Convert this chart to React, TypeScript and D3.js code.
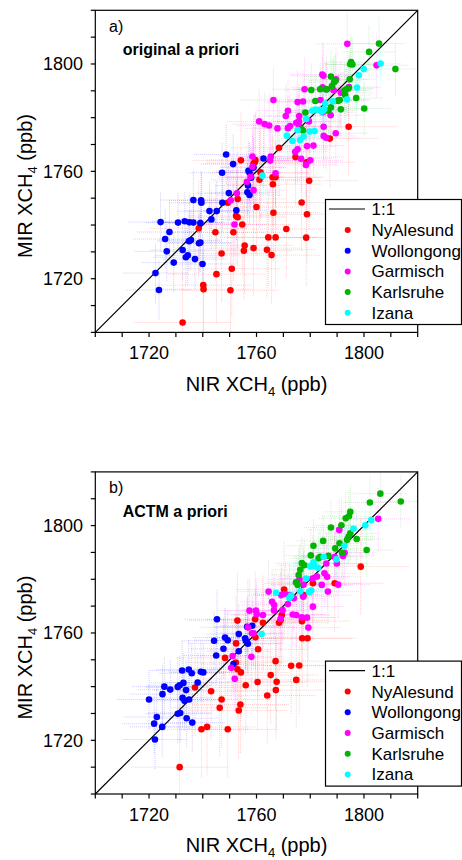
import React from 'react'
import * as d3 from 'd3'

// site names & colours
const sites = ['NyAlesund', 'Wollongong', 'Garmisch', 'Karlsruhe', 'Izana']
const siteColors = ['#ff0000', '#0000ff', '#ff00ff', '#00b400', '#00ffff']
// half-width of the error bars (ppb), x and y
const errX = [18, 12, 12, 10, 8]
const errY = [18, 11, 12, 10, 8]

const axisTicks = d3.range(1700, 1821, 10)
const axisLabels = [1720, 1760, 1800]

// panel a) original a priori : [NIR, MIR]
const nyAlesundA = [[1732.5,1703.7],[1740.2,1717.6],[1740.3,1716.1],[1750.3,1715.7],[1750.8,1723.7],[1745.1,1721.7],[1747.0,1729.4],[1738.5,1738.8],[1744.7,1737.3],[1749.3,1748.3],[1751.4,1737.3],[1753.0,1749.7],[1752.4,1743.4],[1753.0,1742.9],[1754.7,1740.2],[1755.3,1730.4],[1755.6,1732.4],[1758.9,1731.4],[1760.0,1746.7],[1754.2,1764.1],[1759.4,1763.5],[1759.6,1764.2],[1761.1,1756.9],[1761.5,1759.6],[1766.0,1757.8],[1767.1,1757.8],[1766.1,1755.2],[1766.3,1744.6],[1763.9,1730.8],[1764.4,1735.4],[1765.6,1728.8],[1767.1,1735.4],[1768.4,1768.8],[1771.1,1738.5],[1774.5,1765.3],[1776.8,1748.4],[1778.6,1763.4],[1778.8,1744.0],[1778.5,1735.3],[1779.6,1756.5],[1787.3,1772.2],[1794.3,1776.6],[1758.9,1762.9]]
const wollongongA = [[1723.7,1715.8],[1722.4,1722.1],[1729.2,1726.0],[1726.6,1730.2],[1726.0,1734.8],[1727.6,1737.4],[1724.3,1741.1],[1730.8,1740.9],[1733.3,1741.4],[1735.0,1741.0],[1736.5,1740.9],[1739.1,1740.7],[1732.5,1730.7],[1733.7,1728.0],[1734.4,1728.7],[1737.1,1727.3],[1739.9,1725.5],[1734.9,1734.0],[1735.6,1734.4],[1738.6,1733.2],[1739.1,1733.5],[1736.5,1749.3],[1739.4,1749.2],[1739.5,1748.3],[1742.5,1745.2],[1745.2,1745.2],[1743.2,1742.1],[1747.3,1748.3],[1749.7,1751.9],[1747.2,1759.5],[1748.7,1766.3],[1751.3,1762.7],[1752.5,1745.5],[1757.0,1760.2],[1757.4,1759.6],[1756.6,1752.2],[1757.4,1751.2],[1756.8,1754.7],[1758.0,1757.6],[1758.9,1761.4],[1762.6,1764.8]]
const garmischA = [[1793.8,1807.5],[1804.7,1799.5],[1784.5,1796.1],[1784.9,1795.6],[1777.9,1790.6],[1784.6,1791.3],[1786.0,1790.6],[1789.6,1794.3],[1794.4,1791.4],[1791.4,1789.3],[1788.7,1790.2],[1783.8,1786.6],[1775.3,1785.8],[1777.3,1786.0],[1766.3,1786.6],[1771.7,1782.6],[1770.9,1780.6],[1775.9,1780.6],[1787.6,1780.9],[1761.0,1778.6],[1763.0,1777.6],[1764.7,1777.1],[1767.8,1776.0],[1771.7,1776.1],[1772.5,1776.9],[1774.8,1778.1],[1775.8,1778.6],[1775.9,1776.8],[1779.5,1778.6],[1785.0,1776.6],[1789.5,1774.2],[1785.0,1773.2],[1785.9,1772.5],[1781.2,1769.6],[1778.8,1769.4],[1774.4,1767.3],[1775.3,1768.2],[1776.6,1764.7],[1778.4,1762.4],[1780.0,1764.1],[1758.5,1765.5],[1765.1,1764.0],[1765.3,1765.5],[1758.5,1761.7],[1756.4,1756.1],[1757.8,1758.0],[1767.1,1759.3],[1758.9,1753.0],[1752.7,1751.8],[1750.4,1749.2],[1751.8,1740.2],[1790.6,1786.6],[1784.7,1782.0]]
const karlsruheA = [[1805.6,1807.6],[1801.9,1804.5],[1795.2,1800.7],[1795.7,1799.8],[1794.9,1799.9],[1811.7,1798.1],[1787.7,1795.3],[1788.9,1793.2],[1789.4,1793.8],[1794.7,1794.3],[1786.2,1790.6],[1788.1,1791.8],[1793.4,1790.6],[1794.2,1790.9],[1792.7,1790.1],[1793.0,1788.4],[1797.1,1787.3],[1790.3,1786.2],[1787.7,1783.9],[1786.8,1782.6],[1791.4,1783.1],[1800.1,1783.4],[1783.7,1790.6],[1785.8,1790.6],[1781.9,1786.2],[1778.2,1781.9],[1776.8,1775.7],[1777.3,1775.2],[1780.4,1790.3],[1791.0,1786.6]]
const izanaA = [[1806.2,1800.2],[1799.9,1798.1],[1798.1,1795.8],[1797.4,1791.2],[1793.7,1786.8],[1788.4,1786.1],[1785.6,1785.3],[1784.7,1782.5],[1785.2,1783.1],[1783.5,1782.9],[1784.3,1782.2],[1775.3,1775.4],[1776.2,1771.7],[1773.4,1771.3],[1771.3,1773.3],[1777.5,1773.0],[1779.8,1774.8],[1781.6,1775.0],[1762.2,1758.4],[1780.8,1782.6],[1778.5,1779.5],[1782.0,1783.0]]

// panel b) ACTM a priori : [NIR, MIR]
const nyAlesundB = [[1731.4,1710.0],[1739.5,1724.1],[1741.6,1725.0],[1749.3,1724.1],[1737.1,1739.7],[1743.1,1738.3],[1747.0,1735.2],[1746.3,1732.1],[1753.4,1731.1],[1754.0,1733.3],[1756.0,1740.5],[1760.4,1741.7],[1764.0,1736.7],[1767.2,1738.7],[1767.5,1741.8],[1765.3,1744.3],[1767.1,1749.5],[1772.9,1747.8],[1775.9,1747.9],[1774.8,1742.5],[1748.3,1750.7],[1752.3,1749.0],[1752.9,1746.5],[1754.2,1745.3],[1752.4,1756.1],[1760.6,1753.9],[1759.6,1758.4],[1752.9,1764.6],[1756.8,1762.1],[1759.5,1765.1],[1762.4,1763.8],[1768.4,1763.8],[1769.0,1764.8],[1769.4,1766.7],[1770.3,1776.2],[1777.0,1758.0],[1779.0,1758.0],[1776.9,1764.4],[1777.5,1774.1],[1781.0,1778.5],[1789.1,1778.5],[1798.8,1784.7]]
const wollongongB = [[1720.0,1735.2],[1722.2,1720.3],[1721.9,1726.2],[1722.9,1728.7],[1724.9,1725.0],[1725.0,1737.2],[1725.7,1740.0],[1727.9,1738.9],[1730.7,1739.9],[1731.4,1740.5],[1732.3,1746.0],[1734.8,1746.4],[1735.9,1745.0],[1732.8,1741.4],[1733.8,1738.7],[1732.5,1735.8],[1733.2,1734.7],[1734.9,1735.2],[1730.7,1729.9],[1731.6,1730.2],[1734.0,1728.2],[1736.1,1726.6],[1738.1,1741.5],[1739.3,1745.5],[1740.2,1745.3],[1744.2,1757.1],[1745.3,1765.1],[1745.0,1751.6],[1747.7,1754.1],[1748.3,1758.3],[1749.3,1757.3],[1751.4,1748.4],[1753.4,1753.2],[1753.4,1759.6],[1755.8,1758.0],[1756.0,1757.1],[1756.8,1756.0],[1756.5,1762.3],[1758.4,1762.7]]
const garmischB = [[1805.3,1802.5],[1790.8,1798.4],[1789.1,1788.3],[1789.9,1785.9],[1792.2,1788.7],[1792.8,1789.9],[1786.0,1785.9],[1785.3,1782.2],[1786.3,1780.9],[1790.4,1778.0],[1786.6,1775.4],[1784.3,1777.9],[1782.5,1781.0],[1780.9,1780.3],[1776.0,1780.0],[1777.5,1778.0],[1777.4,1773.5],[1781.0,1769.8],[1773.9,1772.9],[1771.7,1770.8],[1764.5,1775.4],[1765.8,1771.6],[1766.6,1770.4],[1766.5,1768.4],[1769.2,1774.1],[1770.7,1774.5],[1772.3,1774.1],[1769.7,1768.5],[1769.0,1765.3],[1773.5,1766.9],[1774.8,1766.7],[1776.8,1765.8],[1778.8,1765.7],[1779.3,1762.0],[1757.4,1768.3],[1759.8,1768.3],[1760.1,1767.0],[1762.4,1766.7],[1756.8,1762.1],[1758.3,1759.9],[1758.9,1759.9],[1758.1,1751.1],[1751.1,1751.4],[1750.6,1747.0],[1751.9,1742.9]]
const karlsruheB = [[1806.1,1811.9],[1802.2,1808.6],[1813.7,1809.0],[1794.9,1805.1],[1794.4,1803.5],[1793.2,1802.7],[1791.6,1800.1],[1787.7,1799.3],[1794.9,1797.1],[1794.3,1795.9],[1793.7,1794.7],[1797.3,1795.0],[1784.8,1794.3],[1790.9,1793.4],[1801.0,1790.9],[1781.2,1792.5],[1789.3,1791.5],[1791.8,1789.9],[1780.2,1788.9],[1783.7,1788.4],[1786.8,1788.7],[1783.1,1787.8],[1776.9,1786.0],[1777.8,1785.2],[1776.3,1783.5],[1775.7,1781.6],[1774.7,1778.9],[1775.3,1777.9]]
const izanaB = [[1802.7,1802.1],[1800.5,1800.1],[1796.1,1798.8],[1792.7,1792.5],[1789.7,1787.4],[1785.0,1788.3],[1781.2,1786.3],[1780.0,1784.8],[1781.5,1784.9],[1782.9,1784.3],[1778.5,1780.3],[1779.6,1775.3],[1780.4,1775.8],[1776.3,1775.5],[1772.9,1773.9],[1772.2,1773.0],[1767.3,1775.0],[1761.9,1759.6]]

const font = 'Liberation Sans, Arial, sans-serif'

function Panel({ dy, tag, title, series, id }) {
  const x = d3.scaleLinear().domain([1700, 1820]).range([95.3, 417.7])
  const y = d3.scaleLinear().domain([1700, 1820]).range([332.4 + dy, 10.3 + dy])
  const [x0, x1] = x.range()
  const [y0, y1] = y.range()

  return (
    <g fontFamily={font}>
      <defs>
        <clipPath id={id}>
          <rect x={x0} y={y1} width={x1 - x0} height={y0 - y1} />
        </clipPath>
      </defs>

      {/* error bars */}
      <g clipPath={`url(#${id})`} strokeWidth={1} strokeDasharray="1 1">
        {series.map((pts, i) => (
          <g key={i} stroke={siteColors[i]} strokeOpacity={0.2}>
            {pts.map((d, j) => (
              <g key={j}>
                <line x1={x(d[0] - errX[i])} x2={x(d[0] + errX[i])} y1={y(d[1])} y2={y(d[1])} />
                <line x1={x(d[0])} x2={x(d[0])} y1={y(d[1] - errY[i])} y2={y(d[1] + errY[i])} />
              </g>
            ))}
          </g>
        ))}
      </g>

      {/* 1:1 line */}
      <line x1={x(1700)} y1={y(1700)} x2={x(1820)} y2={y(1820)} stroke="black" strokeWidth={1.2} />

      {series.map((pts, i) => (
        <g key={i} fill={siteColors[i]}>
          {pts.map((d, j) => (
            <circle key={j} cx={x(d[0])} cy={y(d[1])} r={3.3} />
          ))}
        </g>
      ))}

      {/* frame */}
      <rect x={x0} y={y1} width={x1 - x0} height={y0 - y1} fill="none" stroke="black" strokeWidth={1.2} />

      {/* ticks */}
      {axisTicks.map(t => (
        <g key={t} stroke="black" strokeWidth={1.2}>
          <line x1={x(t)} x2={x(t)} y1={y0} y2={y0 + 4.5} />
          <line x1={x0} x2={x0 - 4.5} y1={y(t)} y2={y(t)} />
        </g>
      ))}
      {axisLabels.map(t => (
        <g key={t} fontSize={18} fill="black">
          <text x={x(t)} y={y0 + 26.6} textAnchor="middle">{t}</text>
          <text x={83} y={y(t) + 6.5} textAnchor="end">{t}</text>
        </g>
      ))}

      {/* axis titles */}
      <text x={256.5} y={390.7 + dy} textAnchor="middle" fontSize={20}>
        NIR XCH<tspan fontSize={13} dy={5}>4</tspan><tspan dy={-5}> (ppb)</tspan>
      </text>
      <text transform={`translate(32,${186 + dy}) rotate(-90)`} textAnchor="middle" fontSize={20}>
        MIR XCH<tspan fontSize={13} dy={5}>4</tspan><tspan dy={-5}> (ppb)</tspan>
      </text>

      {/* panel labels */}
      <text x={109} y={31.6 + dy} fontSize={16}>{tag}</text>
      <text x={122.7} y={55 + dy} fontSize={16} fontWeight="bold">{title}</text>

      {/* legend */}
      <g>
        <rect x={325.5} y={199.5 + dy} width={136} height={125} fill="white" stroke="black" strokeWidth={1.2} />
        <line x1={329} x2={365} y1={209 + dy} y2={209 + dy} stroke="black" strokeWidth={1.2} />
        <text x={371.5} y={215 + dy} fontSize={17}>1:1</text>
        {sites.map((s, i) => (
          <g key={s}>
            <circle cx={347.7} cy={230 + i * 20.7 + dy} r={3} fill={siteColors[i]} />
            <text x={371.5} y={236 + i * 20.7 + dy} fontSize={17}>{s}</text>
          </g>
        ))}
      </g>
    </g>
  )
}

export default function App() {
  return (
    <svg width={462} height={860} style={{ position: 'absolute', left: 0, top: 0, background: 'white' }}>
      <Panel id="clipA" dy={0} tag="a)" title="original a priori"
        series={[nyAlesundA, wollongongA, garmischA, karlsruheA, izanaA]} />
      <Panel id="clipB" dy={461.6} tag="b)" title="ACTM a priori"
        series={[nyAlesundB, wollongongB, garmischB, karlsruheB, izanaB]} />
    </svg>
  )
}
